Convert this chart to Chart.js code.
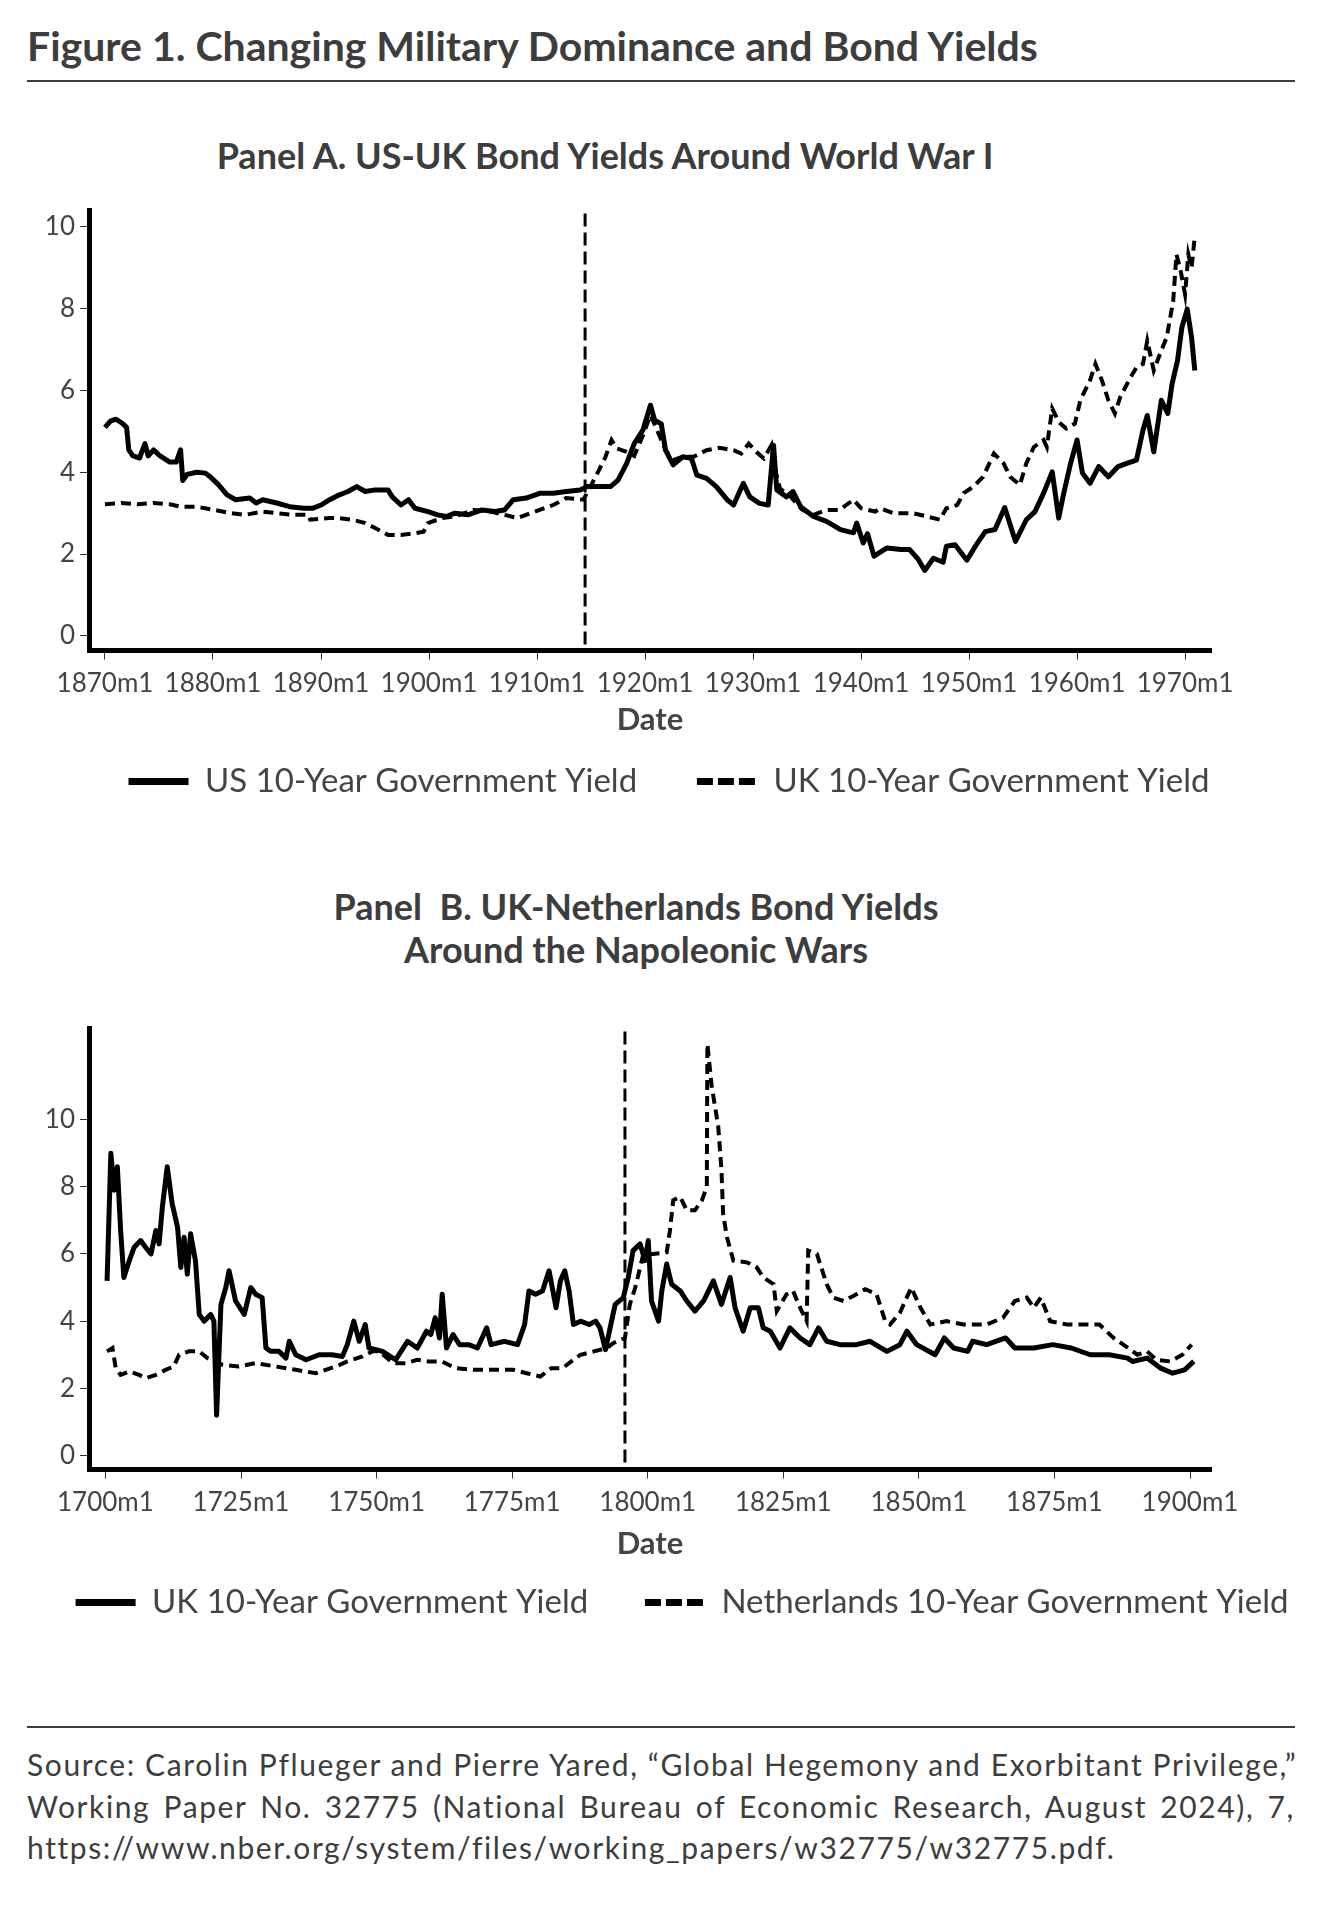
<!DOCTYPE html>
<html>
<head>
<meta charset="utf-8">
<script src="https://cdn.jsdelivr.net/npm/chart.js@4.4.1/dist/chart.umd.min.js"></script>
<style>
  html, body { margin: 0; padding: 0; background: #fff; }
  body { width: 1338px; height: 1918px; position: relative; font-family: Lato, "Open Sans", sans-serif; color: #3d3d3d; overflow: hidden; }
  .abs { position: absolute; }
  .head { left: 27px; top: 21px; font-size: 41px; line-height: 50px; font-weight: 700; white-space: nowrap; }
  .rule { left: 27px; width: 1268px; height: 2px; background: #3d3d3d; }
  .ptitle { font-size: 36px; font-weight: 700; white-space: pre; text-align: center; transform: translateX(-50%); line-height: 43px; }
  .src { left: 27px; width: 1268px; font-size: 30px; line-height: 41.5px; letter-spacing: 1.6px; }
  .src div { text-align: justify; text-align-last: justify; white-space: nowrap; }
  .src div.last { text-align-last: left; }
  canvas { position: absolute; left: 0; }
</style>
</head>
<body>
<div class="abs head">Figure 1. Changing Military Dominance and Bond Yields</div>
<div class="abs rule" style="top:80px"></div>
<div class="abs ptitle" style="left:605px; top:134px">Panel A. US-UK Bond Yields Around World War I</div>
<div style="position:absolute; left:0; top:190px; width:1338px; height:618px"><canvas id="chartA"></canvas></div>
<div class="abs ptitle" style="left:636px; top:885px">Panel  B. UK-Netherlands Bond Yields
Around the Napoleonic Wars</div>
<div style="position:absolute; left:0; top:1008px; width:1338px; height:621px"><canvas id="chartB"></canvas></div>
<div class="abs rule" style="top:1726px"></div>
<div class="abs src" style="top:1744px">
  <div>Source: Carolin Pflueger and Pierre Yared, “Global Hegemony and Exorbitant Privilege,”</div>
  <div>Working Paper No. 32775 (National Bureau of Economic Research, August 2024), 7,</div>
  <div class="last">https://www.nber.org/system/files/working_papers/w32775/w32775.pdf.</div>
</div>
<script>
// Panel A: US vs UK 10-year yields, 1870-1971
const usYearsA = [1870.0, 1870.5, 1871.0, 1871.6, 1872.0, 1872.2, 1872.6, 1873.2, 1873.7, 1874.0, 1874.5, 1875.1, 1876.0, 1876.6, 1877.0, 1877.2, 1877.6, 1878.5, 1879.3, 1879.7,
  1880.5, 1881.3, 1882.1, 1883.4, 1884.0, 1884.6, 1885.9, 1887.1, 1888.4, 1889.2, 1890.0, 1890.8, 1891.7, 1892.5, 1893.3, 1894.1, 1895.0, 1896.2, 1896.6, 1897.4,
  1898.1, 1898.7, 1899.9, 1900.8, 1901.6, 1902.4, 1903.6, 1904.9, 1906.1, 1907.0, 1907.8, 1909.0, 1910.3, 1911.5, 1912.7, 1914.0, 1914.6, 1916.8, 1917.5, 1918.3,
  1919.0, 1919.8, 1920.5, 1920.9, 1921.5, 1921.9, 1922.6, 1923.5, 1924.3, 1924.8, 1925.7, 1926.6, 1927.6, 1928.2, 1929.1, 1929.7, 1930.6, 1931.4, 1931.9, 1932.2,
  1933.1, 1933.7, 1934.4, 1935.6, 1936.8, 1938.1, 1939.3, 1939.6, 1940.2, 1940.6, 1941.2, 1942.4, 1943.7, 1944.5, 1945.3, 1945.9, 1946.7, 1947.6, 1947.9, 1948.7,
  1949.8, 1950.6, 1951.5, 1952.4, 1953.3, 1954.3, 1955.3, 1956.1, 1956.9, 1957.7, 1958.3, 1958.7, 1959.4, 1960.0, 1960.5, 1961.2, 1962.0, 1962.9, 1963.8, 1964.6,
  1965.5, 1966.1, 1966.5, 1967.1, 1967.8, 1968.4, 1968.8, 1969.3, 1969.7, 1970.2, 1970.6, 1970.9];
const usYieldA = [5.1, 5.25, 5.3, 5.2, 5.1, 4.55, 4.4, 4.35, 4.7, 4.4, 4.55, 4.4, 4.25, 4.25, 4.55, 3.8, 3.95, 4.0, 3.98, 3.9,
  3.7, 3.45, 3.33, 3.37, 3.25, 3.33, 3.25, 3.16, 3.12, 3.12, 3.2, 3.33, 3.45, 3.53, 3.65, 3.53, 3.57, 3.57, 3.4, 3.2,
  3.33, 3.12, 3.04, 2.96, 2.92, 3.0, 2.96, 3.08, 3.04, 3.08, 3.33, 3.37, 3.49, 3.49, 3.53, 3.57, 3.65, 3.65, 3.81, 4.22,
  4.7, 5.03, 5.64, 5.27, 5.19, 4.54, 4.18, 4.38, 4.34, 3.93, 3.85, 3.65, 3.33, 3.2, 3.73, 3.4, 3.24, 3.2, 4.66, 3.57,
  3.4, 3.53, 3.16, 2.92, 2.8, 2.6, 2.52, 2.76, 2.27, 2.5, 1.95, 2.15, 2.11, 2.11, 1.87, 1.6, 1.9, 1.8, 2.19, 2.23,
  1.85, 2.2, 2.55, 2.6, 3.14, 2.31, 2.84, 3.04, 3.49, 4.01, 2.88, 3.41, 4.22, 4.79, 3.98, 3.73, 4.14, 3.89, 4.14, 4.22,
  4.3, 5.03, 5.39, 4.5, 5.76, 5.44, 6.17, 6.73, 7.54, 7.99, 7.3, 6.49];

const ukYearsA = [1870.0, 1871.5, 1873.0, 1874.5, 1876.0, 1877.0, 1878.5, 1880.1, 1881.7, 1883.0, 1884.6, 1885.9, 1887.5, 1888.8, 1889.0, 1890.8, 1891.7, 1892.9, 1894.1, 1895.0,
  1896.2, 1897.4, 1898.7, 1899.5, 1899.9, 1901.2, 1902.4, 1904.1, 1905.7, 1907.0, 1908.2, 1909.8, 1911.5, 1912.7, 1914.3, 1915.5, 1916.3, 1916.9, 1917.4, 1918.3,
  1919.0, 1919.8, 1920.5, 1921.0, 1921.9, 1922.6, 1923.5, 1924.5, 1925.7, 1926.9, 1928.2, 1928.9, 1929.6, 1930.3, 1931.0, 1931.7, 1931.9, 1932.5, 1933.5, 1934.5,
  1935.5, 1936.8, 1938.0, 1939.3, 1940.0, 1941.3, 1941.8, 1943.0, 1944.8, 1946.1, 1947.3, 1947.9, 1948.9, 1949.5, 1950.4, 1951.3, 1952.3, 1953.2, 1953.8, 1954.7,
  1955.3, 1956.0, 1956.9, 1957.2, 1957.7, 1958.3, 1959.0, 1959.8, 1960.3, 1961.2, 1961.7, 1962.3, 1962.9, 1963.5, 1964.0, 1964.8, 1965.5, 1966.1, 1966.5, 1967.1,
  1967.8, 1968.3, 1968.9, 1969.2, 1969.6, 1970.0, 1970.3, 1970.6, 1970.9];
const ukYieldA = [3.22, 3.25, 3.22, 3.25, 3.22, 3.16, 3.16, 3.08, 3.0, 2.96, 3.04, 3.0, 2.96, 2.96, 2.84, 2.88, 2.88, 2.84, 2.76, 2.64,
  2.47, 2.47, 2.51, 2.55, 2.76, 2.88, 2.92, 3.08, 3.04, 2.96, 2.88, 3.04, 3.2, 3.37, 3.33, 3.93, 4.35, 4.79, 4.58, 4.5,
  4.4, 4.9, 5.4, 5.1, 4.54, 4.3, 4.38, 4.38, 4.54, 4.6, 4.54, 4.46, 4.7, 4.5, 4.34, 4.66, 4.22, 3.6, 3.4, 3.1,
  2.95, 3.08, 3.08, 3.33, 3.12, 3.04, 3.12, 3.0, 3.0, 2.92, 2.84, 3.12, 3.2, 3.49, 3.65, 3.89, 4.46, 4.22, 3.89, 3.69,
  4.22, 4.62, 4.79, 4.62, 5.56, 5.23, 5.07, 5.19, 5.76, 6.25, 6.65, 6.25, 5.76, 5.44, 5.84, 6.25, 6.57, 6.65, 7.22, 6.49,
  6.98, 7.3, 8.19, 9.33, 8.92, 8.35, 9.33, 9.0, 9.77];

// Panel B: UK vs Netherlands 10-year yields, 1700-1901
const ukYearsB = [1700.3, 1701.0, 1701.6, 1702.2, 1702.8, 1703.4, 1704.4, 1705.3, 1706.5, 1707.4, 1708.4, 1709.3, 1709.9, 1710.5, 1711.4, 1712.3, 1713.3, 1713.9, 1714.5, 1715.1,
  1715.7, 1716.6, 1717.3, 1718.2, 1719.4, 1720.0, 1720.5, 1721.3, 1722.2, 1722.8, 1724.0, 1725.6, 1726.8, 1727.7, 1728.9, 1729.6, 1730.5, 1732.0, 1733.3, 1733.9,
  1735.1, 1737.0, 1739.4, 1741.8, 1743.7, 1744.6, 1745.8, 1746.8, 1747.9, 1748.6, 1751.1, 1753.5, 1755.7, 1757.5, 1759.2, 1760.0, 1760.8, 1761.6, 1762.1, 1762.9,
  1764.1, 1765.3, 1767.0, 1768.6, 1770.3, 1771.1, 1773.6, 1776.0, 1777.3, 1778.1, 1779.3, 1780.6, 1781.8, 1783.1, 1783.9, 1784.7, 1785.5, 1786.3, 1787.6, 1789.2,
  1790.4, 1791.2, 1792.2, 1794.0, 1795.5, 1796.4, 1797.3, 1798.6, 1799.5, 1800.1, 1800.7, 1802.0, 1802.6, 1803.5, 1804.4, 1806.0, 1807.2, 1808.7, 1810.3, 1812.1,
  1813.6, 1815.2, 1816.1, 1817.6, 1818.9, 1820.4, 1821.3, 1822.6, 1824.4, 1826.2, 1828.1, 1829.9, 1831.5, 1833.0, 1835.5, 1838.5, 1841.0, 1844.1, 1846.5, 1847.8,
  1849.6, 1853.0, 1854.7, 1856.4, 1859.0, 1859.9, 1862.5, 1866.0, 1867.7, 1871.2, 1874.7, 1878.1, 1881.6, 1885.1, 1888.5, 1889.4, 1892.1, 1894.6, 1896.8, 1899.0,
  1900.7];
const ukYieldB = [5.2, 9.0, 7.9, 8.6, 6.7, 5.3, 5.8, 6.2, 6.4, 6.2, 6.0, 6.7, 6.3, 7.4, 8.6, 7.5, 6.8, 5.6, 6.5, 5.4,
  6.6, 5.8, 4.2, 4.0, 4.2, 4.0, 1.2, 4.5, 5.0, 5.5, 4.6, 4.2, 5.0, 4.8, 4.7, 3.2, 3.1, 3.1, 2.9, 3.4,
  3.0, 2.85, 3.0, 3.0, 2.95, 3.3, 4.0, 3.4, 3.9, 3.2, 3.1, 2.85, 3.4, 3.2, 3.7, 3.6, 4.1, 3.5, 4.8, 3.2,
  3.6, 3.3, 3.3, 3.2, 3.8, 3.3, 3.4, 3.3, 3.9, 4.9, 4.8, 4.9, 5.5, 4.4, 5.2, 5.5, 4.9, 3.9, 4.0, 3.9,
  4.0, 3.8, 3.15, 4.5, 4.7, 5.3, 6.1, 6.3, 5.8, 6.4, 4.6, 4.0, 4.9, 5.7, 5.1, 4.9, 4.6, 4.3, 4.6, 5.2,
  4.5, 5.3, 4.4, 3.7, 4.4, 4.4, 3.8, 3.7, 3.2, 3.8, 3.5, 3.3, 3.8, 3.4, 3.3, 3.3, 3.4, 3.1, 3.3, 3.7,
  3.3, 3.0, 3.5, 3.2, 3.1, 3.4, 3.3, 3.5, 3.2, 3.2, 3.3, 3.2, 3.0, 3.0, 2.9, 2.8, 2.9, 2.6, 2.45, 2.55,
  2.8];

const nlYearsB = [1700.3, 1701.3, 1701.9, 1702.8, 1704.4, 1706.2, 1707.4, 1709.3, 1711.1, 1712.6, 1713.6, 1715.4, 1717.3, 1718.8, 1721.6, 1724.6, 1727.7, 1731.4, 1735.1, 1738.8,
  1742.5, 1744.6, 1747.4, 1749.2, 1750.5, 1753.0, 1755.5, 1757.5, 1759.6, 1762.1, 1764.5, 1767.8, 1771.9, 1775.2, 1777.7, 1780.2, 1782.2, 1784.3, 1786.3, 1787.6,
  1790.1, 1792.5, 1793.7, 1795.8, 1796.7, 1797.7, 1799.2, 1801.0, 1803.5, 1804.1, 1804.7, 1806.0, 1807.2, 1808.7, 1810.0, 1810.9, 1811.0, 1811.8, 1812.4, 1813.0,
  1813.6, 1813.9, 1814.6, 1815.8, 1818.3, 1820.1, 1821.3, 1823.2, 1823.8, 1825.6, 1826.8, 1828.1, 1829.3, 1829.6, 1831.2, 1833.0, 1834.2, 1836.1, 1837.9, 1840.1,
  1842.2, 1843.8, 1844.7, 1846.5, 1848.6, 1850.3, 1852.1, 1855.1, 1858.2, 1862.5, 1865.5, 1867.7, 1869.9, 1871.2, 1872.5, 1874.2, 1877.3, 1879.9, 1883.3, 1885.9,
  1887.7, 1890.3, 1892.1, 1893.8, 1896.4, 1898.6, 1900.3];
const nlYieldB = [3.1, 3.2, 2.6, 2.4, 2.5, 2.4, 2.3, 2.4, 2.55, 2.65, 3.0, 3.1, 3.1, 2.9, 2.7, 2.65, 2.75, 2.65, 2.55, 2.45,
  2.65, 2.8, 2.95, 3.1, 3.1, 2.75, 2.75, 2.85, 2.8, 2.8, 2.6, 2.55, 2.55, 2.55, 2.45, 2.35, 2.6, 2.6, 2.85, 3.0,
  3.1, 3.2, 3.35, 3.5, 4.5, 5.0, 6.0, 6.0, 6.05, 6.7, 7.6, 7.7, 7.3, 7.3, 7.6, 8.0, 12.25, 11.0, 10.4, 9.8,
  8.5, 7.2, 6.5, 5.8, 5.75, 5.6, 5.3, 5.1, 4.3, 4.8, 4.9, 4.4, 4.0, 6.1, 6.0, 5.1, 4.7, 4.6, 4.75, 4.95,
  4.8, 4.0, 3.9, 4.25, 5.0, 4.4, 3.9, 4.0, 3.9, 3.9, 4.1, 4.6, 4.7, 4.4, 4.7, 4.0, 3.9, 3.9, 3.9, 3.5,
  3.3, 3.0, 3.1, 2.85, 2.8, 3.0, 3.3];

const yTicksA = [0, 2, 4, 6, 8, 10];
const xTicksA = [1870, 1880, 1890, 1900, 1910, 1920, 1930, 1940, 1950, 1960, 1970];
const yTicksB = [0, 2, 4, 6, 8, 10];
const xTicksB = [1700, 1725, 1750, 1775, 1800, 1825, 1850, 1875, 1900];
const warYearA = 1914.45;
const warYearB = 1795.8;

const ink = '#000';
const textCol = '#444';
const tickFont = { family: 'Lato', size: 26 };

function pts(xs, ys) {
  return xs.map((x, i) => ({ x: x, y: ys[i] }));
}

// vertical dashed line marking the war
const warLine = {
  id: 'warLine',
  afterDatasetsDraw(chart, args, opts) {
    const ctx = chart.ctx;
    const x = chart.scales.x.getPixelForValue(opts.year);
    ctx.save();
    ctx.strokeStyle = ink;
    ctx.lineWidth = 3;
    ctx.setLineDash([13, 6]);
    ctx.beginPath();
    ctx.moveTo(x, chart.chartArea.top + 3);
    ctx.lineTo(x, chart.chartArea.bottom);
    ctx.stroke();
    ctx.restore();
  }
};

function makeChart(id, cfg) {
  return new Chart(document.getElementById(id), {
    type: 'line',
    data: {
      datasets: [
        { label: cfg.labels[0], data: cfg.solid, borderColor: ink, borderWidth: 5, pointRadius: 0, tension: 0, borderJoinStyle: 'round' },
        { label: cfg.labels[1], data: cfg.dashed, borderColor: ink, borderWidth: 4, borderDash: [10, 6], pointRadius: 0, tension: 0 }
      ]
    },
    options: {
      responsive: true,
      maintainAspectRatio: false,
      animation: false,
      layout: { padding: { top: cfg.padTop, left: cfg.padLeft, right: 0, bottom: 0 } },
      plugins: {
        tooltip: { enabled: false },
        warLine: { year: cfg.war },
        legend: {
          position: 'bottom',
          labels: {
            color: textCol,
            font: { family: 'Lato', size: 33 },
            usePointStyle: true,
            pointStyleWidth: 60,
            boxHeight: 20,
            padding: cfg.legendPad,
            generateLabels(chart) {
              return chart.data.datasets.map((ds, i) => ({
                text: i === 0 ? ds.label + '    ' : ds.label,
                fillStyle: ink,
                strokeStyle: ink,
                lineWidth: 7,
                lineDash: ds.borderDash ? [16, 5] : [],
                pointStyle: 'line',
                hidden: false,
                datasetIndex: i,
                fontColor: textCol
              }));
            }
          }
        }
      },
      scales: {
        x: {
          type: 'linear',
          min: cfg.xMin,
          max: cfg.xMax,
          afterBuildTicks(scale) { scale.ticks = cfg.xTicks.map(v => ({ value: v })); },
          ticks: { color: textCol, font: tickFont, padding: 8, maxRotation: 0, autoSkip: false, callback: v => v + 'm1' },
          grid: { display: true, drawOnChartArea: false, drawTicks: true, tickLength: 9, tickColor: '#333', lineWidth: 1 },
          border: { display: true, color: ink, width: 5 },
          title: { display: true, text: 'Date', color: textCol, font: { family: 'Lato', size: 31, weight: 'bold' }, padding: { top: cfg.datePad, bottom: 0 } }
        },
        y: {
          min: cfg.yMin,
          max: cfg.yMax,
          afterBuildTicks(scale) { scale.ticks = cfg.yTicks.map(v => ({ value: v })); },
          afterFit(scale) { scale.width = 89 - cfg.padLeft; },
          ticks: { color: textCol, font: tickFont, padding: 5 },
          grid: { display: true, drawOnChartArea: false, drawTicks: true, tickLength: 9, tickColor: '#333', lineWidth: 1 },
          border: { display: true, color: ink, width: 5 }
        },
        // empty right-hand axis that only reserves the blank strip right of the plot
        gap: {
          type: 'linear',
          position: 'right',
          afterFit(scale) { scale.width = 127; },
          ticks: { display: false },
          grid: { display: false, drawTicks: false },
          border: { display: false }
        }
      }
    },
    plugins: [warLine]
  });
}

makeChart('chartA', {
  labels: ['US 10-Year Government Yield', 'UK 10-Year Government Yield'],
  solid: pts(usYearsA, usYieldA),
  dashed: pts(ukYearsA, ukYieldA),
  xMin: 1868.52, xMax: 1972.4, xTicks: xTicksA,
  yMin: -0.36, yMax: 10.4, yTicks: yTicksA,
  war: warYearA, padTop: 19, padLeft: 0, legendPad: 26, datePad: -5
});

makeChart('chartB', {
  labels: ['UK 10-Year Government Yield', 'Netherlands 10-Year Government Yield'],
  solid: pts(ukYearsB, ukYieldB),
  dashed: pts(nlYearsB, nlYieldB),
  xMin: 1696.97, xMax: 1903.87, xTicks: xTicksB,
  yMin: -0.42, yMax: 12.71, yTicks: yTicksB,
  war: warYearB, padTop: 20, padLeft: 26, legendPad: 23, datePad: 0
});
</script>
</body>
</html>
